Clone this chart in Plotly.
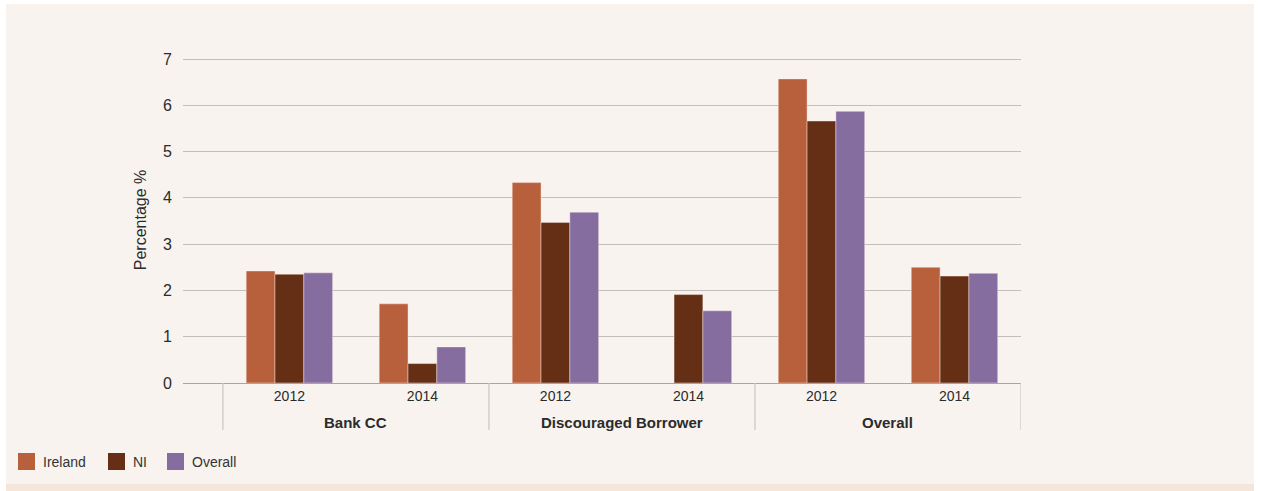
import plotly.graph_objects as go

# Survey results: share of respondents (%) by measure and year
groups = ["Bank CC", "Discouraged Borrower", "Overall"]
years = ["2012", "2014"]
ireland = [2.42, 1.71, 4.33, None, 6.57, 2.50]
ni = [2.35, 0.42, 3.47, 1.91, 5.66, 2.31]
overall = [2.38, 0.78, 3.69, 1.56, 5.87, 2.37]
y_ticks = [0, 1, 2, 3, 4, 5, 6, 7]

series = [("Ireland", ireland, "#B8603C"), ("NI", ni, "#652F16"), ("Overall", overall, "#866DA0")]

# each (group, year) pair sits on its own unit slot along a numeric x axis
slots = [g * len(years) + k + 0.5 for g in range(len(groups)) for k in range(len(years))]
slot_years = [yr for _ in groups for yr in years]

W, H = 1261, 491
L, R, T, B = 183, 1021, 57, 383  # plot area in pixels
y_top = 7 + 2 / ((383 - 59) / 7)  # a little headroom so the top gridline shows


def px(x):
    return (x - L) / (R - L)


def py(y):
    return (B - y) / (B - T)


fig = go.Figure()
for name, vals, color in series:
    fig.add_trace(go.Bar(
        x=slots, y=vals, name=name,
        marker=dict(color=color, line=dict(width=0.6, color="rgba(255,240,235,0.7)")),
    ))

shapes = [
    # card background and bottom strip
    dict(type="rect", xref="paper", yref="paper", x0=px(6), x1=px(1254), y0=py(484), y1=py(4),
         fillcolor="#F8F3EF", line_width=0, layer="below"),
    dict(type="rect", xref="paper", yref="paper", x0=px(6), x1=px(1254), y0=py(491), y1=py(484),
         fillcolor="#F5E6DC", line_width=0, layer="below"),
]
# group dividers below the axis
for g in range(len(groups) + 1):
    shapes.append(dict(type="line", xref="x", yref="paper", x0=g * len(years), x1=g * len(years),
                       y0=0, y1=py(430), line=dict(color="#C9C5C1", width=1.2)))

annotations = []
for g, name in enumerate(groups):
    annotations.append(dict(x=g * len(years) + len(years) / 2, xref="x", y=py(422), yref="paper",
                            yanchor="middle", text="<b>%s</b>" % name, showarrow=False,
                            font=dict(size=15, color="#2B2B2B", family="Liberation Sans")))

# legend: colour swatches with series names
legend_x = [18, 108, 167]
for (name, _, color), x0 in zip(series, legend_x):
    shapes.append(dict(type="rect", xref="paper", yref="paper", x0=px(x0), x1=px(x0 + 17),
                       y0=py(470), y1=py(453), fillcolor=color, line_width=0))
    annotations.append(dict(x=px(x0 + 23), xref="paper", y=py(462), yref="paper",
                            xanchor="left", yanchor="middle", text=name, showarrow=False,
                            font=dict(size=14, color="#333333", family="Liberation Sans")))

fig.update_layout(
    width=W, height=H,
    margin=dict(l=L, r=W - R, t=T, b=H - B, pad=0),
    paper_bgcolor="white",
    plot_bgcolor="rgba(0,0,0,0)",
    barmode="group",
    bargap=0.35,
    bargroupgap=0,
    font=dict(family="Liberation Sans", size=14, color="#2B2B2B"),
    shapes=shapes,
    annotations=annotations,
    showlegend=False,
    xaxis=dict(range=[-0.3, len(slots)], tickvals=slots, ticktext=slot_years,
               showgrid=False, zeroline=False, showline=True, linecolor="#A9A5A1", linewidth=1.2,
               ticks="", tickfont=dict(size=14, color="#2B2B2B"), fixedrange=True),
    yaxis=dict(range=[0, y_top], tickvals=y_ticks, showgrid=True, gridcolor="#C2BEBA", gridwidth=1.2,
               zeroline=False, showline=False, ticks="", ticklabelstandoff=10,
               tickfont=dict(size=16, color="#2B2B2B"),
               title=dict(text="Percentage %", font=dict(size=16, color="#2B2B2B"), standoff=12)),
)

fig.write_html("out.html")
